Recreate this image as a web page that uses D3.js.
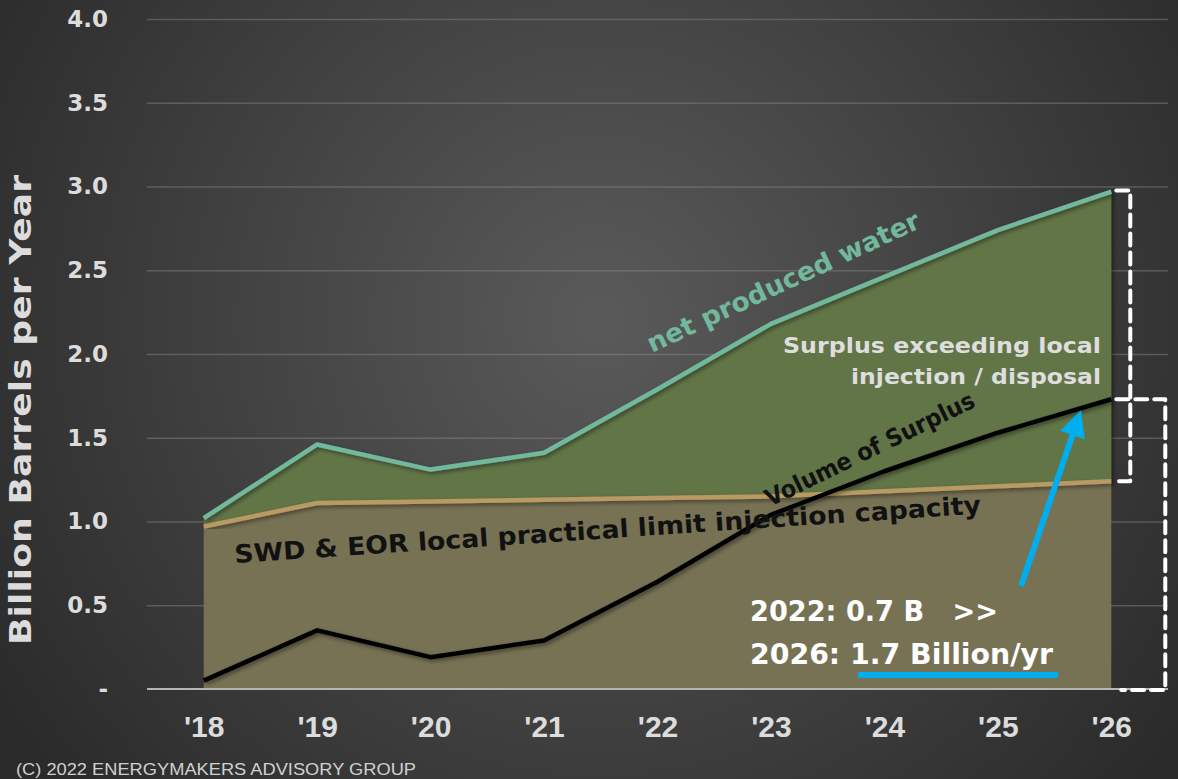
<!DOCTYPE html>
<html>
<head>
<meta charset="utf-8">
<script src="https://cdn.jsdelivr.net/npm/d3@7"></script>
<style>
  html, body { margin: 0; padding: 0; background: #2b2b2b; overflow: hidden; }
  svg { display: block; }
  text { white-space: pre; }
</style>
</head>
<body>
<svg id="chart" width="1178" height="779"></svg>
<script>
// data
const years = ["'18", "'19", "'20", "'21", "'22", "'23", "'24", "'25", "'26"];
const netWater = [1.02, 1.46, 1.31, 1.41, 1.79, 2.18, 2.46, 2.74, 2.97];
const capacity = [0.97, 1.11, 1.12, 1.13, 1.14, 1.15, 1.18, 1.21, 1.24];
const surplus = [0.05, 0.35, 0.19, 0.29, 0.64, 1.04, 1.30, 1.53, 1.73];
const yTicks = [0, 0.5, 1, 1.5, 2, 2.5, 3, 3.5, 4];

const W = 1178, H = 779;
const plotLeft = 147, plotRight = 1168, plotTop = 19, plotBottom = 689;

const svg = d3.select("#chart");
const defs = svg.append("defs");

// background gradient
let grad = defs.append("radialGradient")
  .attr("id", "bg")
  .attr("gradientUnits", "userSpaceOnUse")
  .attr("cx", 600).attr("cy", 320).attr("r", 720);
grad.append("stop").attr("offset", "0%").attr("stop-color", "#5a5a5a");
grad.append("stop").attr("offset", "100%").attr("stop-color", "#2a2a2a");

let shadow = defs.append("filter").attr("id", "shadow")
  .attr("x", "-5%").attr("y", "-5%").attr("width", "110%").attr("height", "110%");
shadow.append("feDropShadow")
  .attr("dx", 2).attr("dy", 2).attr("stdDeviation", 2)
  .attr("flood-color", "#000").attr("flood-opacity", 0.45);

defs.append("marker")
  .attr("id", "arrow")
  .attr("viewBox", "0 0 10 10")
  .attr("refX", 8).attr("refY", 5)
  .attr("markerWidth", 4.4).attr("markerHeight", 4.4)
  .attr("orient", "auto")
  .append("path").attr("d", "M0,0 L10,5 L0,10 z").attr("fill", "#00aeef");

svg.append("rect").attr("width", W).attr("height", H).attr("fill", "url(#bg)");

const x = d3.scalePoint().domain(years).range([plotLeft, plotRight]).padding(0.5);
const y = d3.scaleLinear().domain([0, 4]).range([plotBottom, plotTop]);

// grid
svg.append("g")
  .attr("transform", `translate(${plotLeft},0)`)
  .call(d3.axisLeft(y).tickValues(yTicks.slice(1)).tickSize(-(plotRight - plotLeft)).tickFormat(""))
  .call(g => g.select(".domain").remove())
  .call(g => g.selectAll("line").attr("stroke", "#8a8a8a").attr("stroke-opacity", 0.45).attr("stroke-width", 1.5));

// y tick labels
svg.append("g")
  .attr("transform", "translate(108,0)")
  .call(d3.axisLeft(y).tickValues(yTicks).tickSize(0)
    .tickFormat(d => d === 0 ? "-" : d3.format(".1f")(d)))
  .call(g => g.select(".domain").remove())
  .call(g => g.selectAll("text")
    .attr("x", 0)
    .attr("fill", "#dcdcdc")
    .style("font-family", "'DejaVu Sans', sans-serif")
    .style("font-weight", "bold")
    .style("font-size", "23px"));

// x tick labels
svg.append("g")
  .attr("transform", `translate(0,${plotBottom})`)
  .call(d3.axisBottom(x).tickSize(0))
  .call(g => g.select(".domain").remove())
  .call(g => g.selectAll("text")
    .attr("y", 27)
    .attr("dy", "0.71em")
    .attr("fill", "#dcdcdc")
    .style("font-family", "'Liberation Sans Narrow', 'Arial Narrow', sans-serif")
    .style("font-weight", "bold")
    .style("font-size", "30px"));

const idx = d3.range(years.length);

// areas
const areaUpper = d3.area()
  .x(i => x(years[i])).y0(i => y(capacity[i])).y1(i => y(netWater[i]));
const areaLower = d3.area()
  .x(i => x(years[i])).y0(y(0)).y1(i => y(capacity[i]));

svg.append("path").datum(idx).attr("d", areaUpper).attr("fill", "#627447").attr("filter", "url(#shadow)");
svg.append("path").datum(idx).attr("d", areaLower).attr("fill", "#777254");

// base line
svg.append("line")
  .attr("x1", plotLeft).attr("x2", plotRight).attr("y1", plotBottom).attr("y2", plotBottom)
  .attr("stroke", "#b5b5b5").attr("stroke-width", 2);

function drawLine(values, color) {
  let line = d3.line().x(i => x(years[i])).y(i => y(values[i]));
  return svg.append("path").datum(idx)
    .attr("d", line)
    .attr("fill", "none")
    .attr("stroke", color)
    .attr("stroke-width", 4.5)
    .attr("stroke-linejoin", "round")
    .attr("filter", "url(#shadow)");
}
drawLine(capacity, "#b99a62");
drawLine(netWater, "#72b89d");
drawLine(surplus, "#000000");

function label(txt, px, py, angle, size, color, len, anchor = "start") {
  let t = svg.append("text")
    .attr("transform", `translate(${px},${py}) rotate(${angle})`)
    .attr("fill", color)
    .attr("text-anchor", anchor)
    .style("font-family", "'DejaVu Sans', sans-serif")
    .style("font-weight", "bold")
    .style("font-size", size + "px")
    .text(txt);
  if (len) t.attr("textLength", len).attr("lengthAdjust", "spacingAndGlyphs");
  return t;
}

label("net produced water", 652, 353, -25, 26, "#72b89d", 298);
label("SWD & EOR local practical limit injection capacity", 235, 563, -3.8, 25, "#111111", 748);
label("Volume of Surplus", 770, 507, -26, 24, "#111111", 230);
label("Surplus exceeding local", 1101, 353, 0, 22, "#dedede", 318, "end");
label("injection / disposal", 1101, 384, 0, 22, "#dedede", 250, "end");
label("2022: 0.7 B   >>", 750, 621, 0, 29, "#ffffff", 248);
label("2026: 1.7 Billion/yr", 750, 664, 0, 29, "#ffffff", 303);

// blue underline + arrow
svg.append("line")
  .attr("x1", 858).attr("x2", 1058).attr("y1", 675).attr("y2", 675)
  .attr("stroke", "#00aeef").attr("stroke-width", 6);
svg.append("line")
  .attr("x1", 1021).attr("y1", 586).attr("x2", x("'26") - 32).attr("y2", y(surplus[8]) + 16)
  .attr("stroke", "#00aeef").attr("stroke-width", 6)
  .attr("marker-end", "url(#arrow)");

// dashed brackets at the right
const xe = x("'26");
svg.append("path")
  .attr("d", `M${xe + 5},${y(netWater[8]) - 1} H${xe + 19} V${y(capacity[8])} H${xe + 5}`)
  .attr("fill", "none").attr("stroke", "#ffffff").attr("stroke-width", 4)
  .attr("stroke-dasharray", "12 7").attr("stroke-linecap", "round").attr("stroke-linejoin", "round");
svg.append("path")
  .attr("d", `M${xe + 5},${y(surplus[8])} H${xe + 54} V${y(0) + 1} H${xe + 10}`)
  .attr("fill", "none").attr("stroke", "#ffffff").attr("stroke-width", 4)
  .attr("stroke-dasharray", "12 7").attr("stroke-linecap", "round").attr("stroke-linejoin", "round");

// y axis title, hugging the left edge
svg.append("text")
  .attr("transform", "translate(31,410) rotate(-90)")
  .attr("text-anchor", "middle")
  .attr("fill", "#dcdcdc")
  .attr("textLength", 470).attr("lengthAdjust", "spacingAndGlyphs")
  .style("font-family", "'DejaVu Sans', sans-serif")
  .style("font-weight", "bold")
  .style("font-size", "31px")
  .text("Billion Barrels per Year");

svg.append("text")
  .attr("x", 16).attr("y", 775)
  .attr("fill", "#d0d0d0")
  .attr("textLength", 400).attr("lengthAdjust", "spacingAndGlyphs")
  .style("font-family", "'Liberation Sans Narrow', 'Arial Narrow', sans-serif")
  .style("font-size", "16px")
  .text("(C) 2022 ENERGYMAKERS ADVISORY GROUP");
</script>
</body>
</html>
